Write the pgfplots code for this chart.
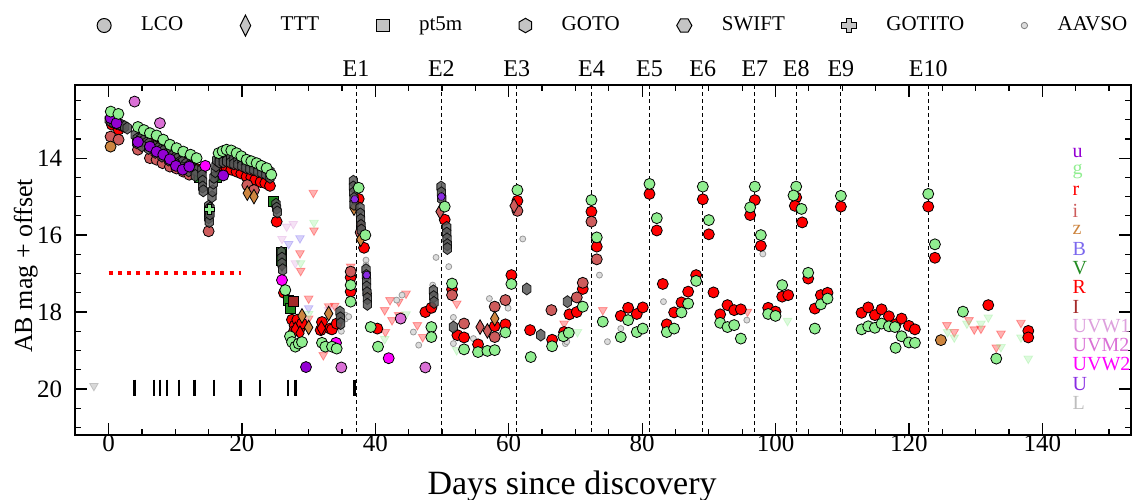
\documentclass[border=0pt]{standalone}
\usepackage{fontspec}
\setmainfont{Liberation Serif}
\usepackage{pgfplots}
\pgfplotsset{compat=1.18}

\definecolor{cu}{HTML}{9400D3}
\definecolor{cg}{HTML}{90EE90}
\definecolor{cr}{HTML}{FF0000}
\definecolor{ci}{HTML}{CD5C5C}
\definecolor{cz}{HTML}{CD853F}
\definecolor{cB}{HTML}{7B68EE}
\definecolor{cV}{HTML}{228B22}
\definecolor{cI}{HTML}{A52A2A}
\definecolor{cwa}{HTML}{DDA0DD}
\definecolor{cmb}{HTML}{DA70D6}
\definecolor{cwb}{HTML}{FF00FF}
\definecolor{cU}{HTML}{8A2BE2}
\definecolor{cL}{HTML}{BEBEBE}
\definecolor{goto}{HTML}{585858}
\definecolor{leg}{HTML}{C4C4C4}

% hexagon marks (GOTO upright, SWIFT flat) and a filled plus (GOTITO)
\pgfdeclareplotmark{hexv}{%
  \pgfpathmoveto{\pgfpointpolar{90}{\pgfplotmarksize}}%
  \pgfpathlineto{\pgfpointpolar{150}{\pgfplotmarksize}}%
  \pgfpathlineto{\pgfpointpolar{210}{\pgfplotmarksize}}%
  \pgfpathlineto{\pgfpointpolar{270}{\pgfplotmarksize}}%
  \pgfpathlineto{\pgfpointpolar{330}{\pgfplotmarksize}}%
  \pgfpathlineto{\pgfpointpolar{30}{\pgfplotmarksize}}%
  \pgfpathclose\pgfusepathqfillstroke}
\pgfdeclareplotmark{hexh}{%
  \pgfpathmoveto{\pgfpointpolar{0}{\pgfplotmarksize}}%
  \pgfpathlineto{\pgfpointpolar{60}{\pgfplotmarksize}}%
  \pgfpathlineto{\pgfpointpolar{120}{\pgfplotmarksize}}%
  \pgfpathlineto{\pgfpointpolar{180}{\pgfplotmarksize}}%
  \pgfpathlineto{\pgfpointpolar{240}{\pgfplotmarksize}}%
  \pgfpathlineto{\pgfpointpolar{300}{\pgfplotmarksize}}%
  \pgfpathclose\pgfusepathqfillstroke}
\pgfdeclareplotmark{fplus}{%
  \pgfpathmoveto{\pgfpoint{-0.35\pgfplotmarksize}{\pgfplotmarksize}}%
  \pgfpathlineto{\pgfpoint{0.35\pgfplotmarksize}{\pgfplotmarksize}}%
  \pgfpathlineto{\pgfpoint{0.35\pgfplotmarksize}{0.35\pgfplotmarksize}}%
  \pgfpathlineto{\pgfpoint{\pgfplotmarksize}{0.35\pgfplotmarksize}}%
  \pgfpathlineto{\pgfpoint{\pgfplotmarksize}{-0.35\pgfplotmarksize}}%
  \pgfpathlineto{\pgfpoint{0.35\pgfplotmarksize}{-0.35\pgfplotmarksize}}%
  \pgfpathlineto{\pgfpoint{0.35\pgfplotmarksize}{-\pgfplotmarksize}}%
  \pgfpathlineto{\pgfpoint{-0.35\pgfplotmarksize}{-\pgfplotmarksize}}%
  \pgfpathlineto{\pgfpoint{-0.35\pgfplotmarksize}{-0.35\pgfplotmarksize}}%
  \pgfpathlineto{\pgfpoint{-\pgfplotmarksize}{-0.35\pgfplotmarksize}}%
  \pgfpathlineto{\pgfpoint{-\pgfplotmarksize}{0.35\pgfplotmarksize}}%
  \pgfpathlineto{\pgfpoint{-0.35\pgfplotmarksize}{0.35\pgfplotmarksize}}%
  \pgfpathclose\pgfusepathqfillstroke}

\pgfplotsset{
  lco/.style={only marks, mark=*, mark size=2.75pt,
    mark options={draw=black, line width=0.4pt, fill=#1}},
  ttt/.style={only marks, mark=diamond*, mark size=2.8pt,
    mark options={draw=black, line width=0.4pt, fill=#1, yscale=1.3}},
  sq/.style={only marks, mark=square*, mark size=2.5pt,
    mark options={draw=black, line width=0.4pt, fill=#1}},
  ul/.style={only marks, mark=triangle*, mark size=2.5pt,
    mark options={rotate=180, draw=#1, fill=#1, fill opacity=0.3, draw opacity=0.35, line width=0.4pt}},
}

\begin{document}
\begin{tikzpicture}
\begin{axis}[
  width=527.7pt, height=175pt, scale only axis,
  xmin=-5, xmax=153.3, ymin=12.1, ymax=21.2, y dir=reverse,
  xtick={0,20,...,140}, ytick={14,16,18,20},
  minor xtick={5,10,15,25,30,35,45,50,55,65,70,75,85,90,95,105,110,115,125,130,135,145,150},
  minor ytick={12.5,13,13.5,14.5,15,15.5,16.5,17,17.5,18.5,19,19.5,20.5,21},
  tick pos=both, tick align=inside,
  major tick length=6pt, minor tick length=3pt,
  every tick/.style={black, line width=0.6pt},
  axis line style={line width=0.8pt},
  tick label style={font=\fontsize{12.5}{14}\selectfont},
  xticklabel style={yshift=3.5pt},
  yticklabel style={xshift=-3pt},
  /pgf/number format/assume math mode=true,
  clip=false,
  legend columns=7,
  legend image code/.code={\draw[#1] plot coordinates {(0pt,0pt)};},
  legend style={at={(axis description cs:0.0147,1.17)}, anchor=west, draw=none, fill=none,
    font=\fontsize{10.5}{12}\selectfont, nodes={inner sep=0pt},
    /tikz/every odd column/.append style={column sep=15pt},
    /tikz/every even column/.append style={column sep=28.5pt}},
]
\addlegendimage{only marks, mark=*, mark size=3.5pt, mark options={draw=black, fill=leg, line width=0.5pt}}
\addlegendentry{LCO}
\addlegendimage{only marks, mark=diamond*, mark size=3.5pt, mark options={draw=black, fill=leg, line width=0.5pt, yscale=1.5}}
\addlegendentry{TTT}
\addlegendimage{only marks, mark=square*, mark size=3.2pt, mark options={draw=black, fill=leg, line width=0.5pt}}
\addlegendentry{pt5m}
\addlegendimage{only marks, mark=hexv, mark size=3.6pt, mark options={draw=black, fill=leg, line width=0.5pt}}
\addlegendentry{GOTO}
\addlegendimage{only marks, mark=hexh, mark size=3.8pt, mark options={draw=black, fill=leg, line width=0.5pt}}
\addlegendentry{SWIFT}
\addlegendimage{only marks, mark=fplus, mark size=3.6pt, mark options={draw=black, fill=leg, line width=0.5pt}}
\addlegendentry{GOTITO}
\addlegendimage{only marks, mark=*, mark size=1.6pt, mark options={draw=gray, fill=leg!60, line width=0.4pt}}
\addlegendentry{AAVSO}

% event lines
\pgfplotsinvokeforeach{37.1,49.9,61.2,72.4,81.1,89.1,96.9,103.1,109.8,122.9}{
  \addplot[black, line width=0.5pt, dash pattern=on 2pt off 1.5pt] coordinates {(#1,12.1) (#1,21.2)};
}

% red dotted reference line
\addplot[cr, line width=2pt, dash pattern=on 2pt off 2.65pt] coordinates {(0,16.98) (19.8,16.98)};

% spectral epochs
\addplot[only marks, mark=|, mark size=3.95pt, mark options={line width=1.2pt, black}] coordinates {
(3.9,19.965)(6.8,19.965)(7.7,19.965)(8.8,19.965)(10.6,19.965)(12.9,19.965)
(15.8,19.965)(19.8,19.965)(22.7,19.965)(26.9,19.965)(28.0,19.965)(36.9,19.965)};

% upper limits
\addplot[ul=cr] coordinates {
(30.7,14.9)(30.8,15.88)(28.7,16.47)(28.8,16.93)(30.0,17.65)(30.0,18.17)(33.0,17.85)(33.9,17.84)
(32.2,19.12)(36.3,16.82)(42.2,17.69)(43.5,17.73)(44.6,17.52)(41.4,17.95)(42.5,18.21)(43.5,18.08)
(41.5,18.52)(46.3,18.34)(47.1,18.65)(52.2,17.78)(68.3,18.3)(74.1,17.95)(95.8,17.99)
(125.7,18.34)(126.8,18.52)(129.0,18.21)(129.8,18.45)(130.8,18.43)(133.8,18.56)(133.1,18.92)(136.8,18.28)};
\addplot[ul=cwa] coordinates {(26.7,15.78)(27.7,15.71)(26.0,16.1)(28.0,16.73)(33.0,17.95)};
\addplot[ul=cB] coordinates {(27.0,16.23)(28.7,16.08)(30.0,17.9)};
\addplot[ul=cg] coordinates {
(30.8,15.68)(28.8,16.73)(30.0,18.05)(41.4,18.7)(44.6,18.06)(52.2,18.99)(70.3,18.52)(101.8,18.23)
(125.8,18.52)(126.8,18.66)(128.7,18.3)(130.8,18.3)(131.9,18.14)(133.8,18.91)(136.8,18.66)(137.9,19.21)};
\addplot[ul=gray] coordinates {(-2.2,19.92)};

% AAVSO
\addplot[only marks, mark=*, mark size=1.5pt, mark options={draw=gray!80, fill=leg!60, line width=0.4pt}] coordinates {
(34.6,18.0)(34.7,18.1)(34.7,18.2)(34.8,18.3)(34.8,18.4)(34.9,18.5)(35.5,18.08)(35.5,18.18)(36.0,18.12)
(38.6,16.65)(38.6,16.78)(43.2,17.69)(44.0,17.56)(45.7,18.52)(46.5,18.86)(49.1,16.58)(51.0,16.82)
(51.7,18.14)(51.7,18.82)(54.7,18.69)(57.1,17.65)(59.9,17.9)(62.1,16.1)(68.5,18.82)(68.7,18.77)
(73.6,17.04)(74.8,18.77)(76.8,18.43)(83.2,17.73)(95.7,18.21)(98.1,16.49)(48.6,17.3)(48.6,17.95)};

% r band
\addplot[lco=cr] coordinates {
(0.5,13.13)(1.5,13.26)(5.0,13.55)(6.2,13.6)(7.2,13.7)(8.2,13.8)(9.2,13.92)(10.3,14.03)(11.2,14.1)
(12.2,14.18)(13.2,14.28)(16.5,14.22)(17.1,14.2)(17.7,14.26)(18.4,14.3)(19.2,14.35)(19.9,14.4)
(20.7,14.48)(21.4,14.5)(22.0,14.56)(22.8,14.62)(23.5,14.65)(24.2,14.72)(25.2,15.65)(26.3,17.5)
(27.5,18.2)(27.9,18.35)(28.3,18.2)(28.6,18.45)(27.8,18.5)(29.0,18.3)(32.0,18.26)(33.2,18.43)
(31.8,18.47)(33.5,18.45)(34.2,18.3)(36.3,17.1)(36.3,17.47)(37.5,15.06)(38.3,16.33)(40.3,18.43)
(47.5,18.0)(48.4,17.89)(50.4,15.6)(51.5,17.41)(52.3,18.6)(53.3,18.66)(55.4,18.84)(57.9,18.37)
(59.5,18.32)(60.4,17.04)(61.3,15.11)(63.2,18.47)(66.5,18.72)(68.3,18.52)(69.1,18.06)(70.2,18.0)
(71.1,17.4)(72.4,15.39)(73.2,16.3)(76.8,18.1)(77.9,17.89)(79.2,18.05)(80.1,17.88)(81.1,14.93)
(82.2,15.88)(83.1,17.27)(83.7,18.32)(84.8,18.01)(85.9,17.75)(86.9,17.47)(88.1,17.04)(89.1,15.07)
(90.0,15.98)(90.7,17.49)(91.7,18.06)(92.8,17.82)(93.8,17.95)(94.8,17.93)(96.2,15.48)(96.9,15.09)
(97.8,16.28)(98.9,17.89)(100.0,17.99)(101.0,17.6)(101.9,17.56)(103.1,15.02)(102.9,15.24)(104.0,15.67)
(104.9,17.13)(105.9,17.91)(106.8,17.56)(107.8,17.5)(109.8,15.26)(112.9,18.02)(113.9,17.88)
(114.9,18.08)(115.9,17.93)(117.0,18.11)(118.0,18.32)(118.9,18.17)(120.0,18.36)(120.9,18.45)
(122.9,15.26)(123.9,16.59)(131.9,17.82)(137.9,18.49)(137.9,18.66)};

% i band
\addplot[lco=ci] coordinates {
(0.3,13.44)(1.5,13.52)(4.4,13.78)(6.2,14.0)(7.2,14.04)(8.1,14.13)(9.2,14.22)(10.2,14.27)(11.2,14.35)
(12.1,14.43)(15.0,15.9)(20.8,14.7)(21.8,14.83)(36.3,16.95)(37.8,15.93)(51.5,17.56)(53.3,18.3)
(57.9,17.86)(57.9,18.65)(59.5,17.69)(61.3,15.37)(66.4,17.95)(70.2,17.62)(71.1,17.24)(72.4,15.65)(73.2,16.63)};

% z band
\addplot[lco=cz] coordinates {(0.3,13.70)(124.8,18.73)};
\addplot[ttt=cz] coordinates {
(20.8,14.91)(21.8,15.0)(26.9,17.7)(29.0,18.1)(30.0,18.4)(33.0,18.04)(36.8,15.3)(37.8,16.11)(38.8,17.52)(57.9,18.17)};
\addplot[ttt=cr] coordinates {(26.0,16.52)(26.0,16.75)(28.0,18.45)(28.7,18.55)(31.9,18.42)(37.8,15.71)};
\addplot[ttt=ci] coordinates {(49.7,15.39)(60.8,15.24)(55.7,18.39)(56.8,18.49)};

% V, B, I squares
\addplot[sq=cV] coordinates {(13.6,14.5)(16.2,14.5)(24.7,15.13)(25.9,16.45)(25.9,16.65)(27.0,17.7)(27.2,17.9)};
\addplot[sq=cB] coordinates {(5.0,13.3)};
\addplot[sq=cI] coordinates {(27.7,17.73)};

% GOTO L
\addplot[only marks, mark=hexv, mark size=2.4pt, mark options={draw=black, fill=goto, line width=0.4pt, yscale=1.25, opacity=0.85}] coordinates {
(0.1,13.0)(0.4,13.05)(0.8,13.08)(1.2,13.1)(1.6,13.12)(2.0,13.15)(2.4,13.18)(2.8,13.22)
(4.0,13.4)(4.3,13.5)(4.8,13.5)(5.2,13.55)(5.7,13.6)(6.1,13.62)(6.5,13.7)(6.9,13.7)(7.4,13.75)
(7.8,13.8)(8.2,13.82)(8.6,13.9)(9.0,13.9)(9.5,13.95)(9.9,14.0)(10.3,14.02)(10.7,14.1)(11.1,14.1)
(11.6,14.15)(12.0,14.2)(12.4,14.22)(12.8,14.3)(13.2,14.32)
(4.2,13.6)(5.0,13.68)(6.0,13.75)(7.0,13.85)(8.0,13.95)(9.0,14.05)(10.0,14.15)(11.0,14.25)(12.0,14.33)(13.0,14.45)
(14.0,14.3)(14.0,14.45)(14.1,14.6)(14.1,14.75)(14.2,14.85)
(15.0,15.25)(15.0,15.35)(15.0,15.45)(15.0,15.55)(15.1,15.65)(15.2,15.3)(15.2,15.45)
(15.5,15.0)(15.6,14.85)(15.7,14.65)(15.8,14.5)(16.0,14.35)(16.1,14.2)(16.2,14.05)
(16.6,13.95)(16.6,14.1)(17.2,13.95)(17.2,14.1)(17.7,13.92)(17.7,14.08)(18.3,13.95)(18.3,14.12)
(18.8,14.0)(18.8,14.15)(19.4,14.0)(19.4,14.17)(20.0,14.05)(20.0,14.2)(20.6,14.08)(20.6,14.25)
(21.2,14.1)(21.2,14.28)(21.8,14.15)(21.8,14.3)(22.4,14.18)(22.4,14.35)(23.0,14.22)(23.0,14.38)
(23.6,14.28)(23.6,14.42)(24.2,14.35)(24.2,14.5)
(25.1,15.2)(25.2,15.3)(25.3,15.4)(25.9,16.45)(26.0,16.6)(26.0,16.75)(26.1,16.9)
(34.7,18.0)(34.75,18.15)(34.8,18.3)
(36.7,14.6)(36.7,14.75)(36.75,14.9)(36.8,15.05)(36.8,15.2)
(37.7,15.3)(37.75,15.45)(37.8,15.6)(37.85,15.75)(37.9,15.87)
(38.6,16.9)(38.65,17.05)(38.7,17.2)(38.7,17.35)(38.75,17.5)(38.8,17.65)(38.8,17.8)
(48.7,17.45)(48.75,17.6)(48.8,17.75)
(49.85,14.75)(49.9,14.9)(49.95,15.05)
(50.7,15.8)(50.7,15.95)(50.75,16.1)(50.8,16.25)(50.8,16.35)
(51.7,18.39)(62.7,17.4)(64.8,18.6)(68.8,17.73)};

% u / U band
\addplot[lco=cu] coordinates {
(0.3,12.96)(1.2,13.09)(4.4,13.58)(6.2,13.70)(7.2,13.83)(8.2,13.91)(9.2,14.03)(10.1,14.2)(11.1,14.3)
(12.1,14.22)(17.2,14.45)(29.6,19.43)};
\addplot[only marks, mark=hexh, mark size=2pt, mark options={draw=black, fill=cU, line width=0.3pt}] coordinates {
(36.9,15.07)(38.7,17.04)(49.9,15.0)};

% UV
\addplot[lco=cwb] coordinates {(14.5,14.2)(26.0,17.17)(34.1,18.8)(42.0,19.2)};
\addplot[lco=cmb] coordinates {(3.9,12.53)(7.7,13.09)(34.9,19.44)(47.5,19.44)(43.8,18.17)};

% g band
\addplot[lco=cg] coordinates {
(0.33,12.79)(1.47,12.85)(4.4,13.19)(5.3,13.27)(6.2,13.35)(7.2,13.41)(8.2,13.52)(9.2,13.65)(10.2,13.74)
(11.2,13.83)(12.3,13.91)(13.2,14.0)(16.5,13.87)(17.1,13.82)(17.7,13.78)(18.4,13.8)(19.2,13.87)
(19.9,13.95)(20.7,14.04)(21.4,14.08)(22.2,14.13)(22.9,14.2)(23.7,14.26)(24.4,14.43)(26.5,17.43)
(27.2,18.63)(27.5,18.78)(28.0,18.9)(28.5,18.82)(29.0,18.78)(32.0,18.8)(32.5,18.9)(33.5,18.9)(34.2,18.95)
(36.3,17.3)(36.3,17.73)(37.5,14.77)(38.5,16.0)(39.3,18.39)(40.4,18.9)(48.4,18.39)(48.4,18.65)
(50.4,15.26)(51.5,17.26)(53.3,18.97)(55.4,19.04)(56.8,19.01)(57.9,18.99)(59.5,18.53)(60.4,17.27)
(61.3,14.83)(63.3,19.17)(66.5,18.89)(68.2,18.63)(69.0,18.54)(71.1,17.86)(72.4,15.09)(73.2,16.06)
(74.1,18.25)(76.8,18.65)(77.9,18.21)(79.2,18.52)(80.1,18.43)(81.1,14.67)(82.2,15.56)(83.7,18.52)
(84.8,18.43)(85.9,18.01)(86.9,17.78)(88.1,17.19)(89.1,14.74)(90.0,15.61)(91.7,18.28)(92.8,18.39)
(93.8,18.34)(94.8,18.69)(96.2,15.28)(96.9,14.74)(97.8,16.0)(98.9,18.05)(100.0,18.1)(101.0,17.3)
(103.1,14.74)(102.7,14.97)(103.9,15.32)(104.9,16.98)(105.9,18.43)(106.8,17.8)(107.8,17.65)
(109.8,14.98)(112.9,18.45)(113.9,18.37)(114.9,18.41)(115.9,18.3)(117.0,18.37)(117.9,18.39)
(118.0,18.93)(118.9,18.63)(120.0,18.79)(120.9,18.8)(122.9,14.93)(123.9,16.24)(128.1,17.99)(133.1,19.21)};
\addplot[only marks, mark=fplus, mark size=2.6pt, mark options={draw=black, fill=cg, line width=0.3pt}] coordinates {(15.1,15.33)};

% event labels
\node[anchor=base, yshift=4.2pt, font=\fontsize{12}{14}\selectfont] at (axis cs:37.1,12.1) {E1};
\node[anchor=base, yshift=4.2pt, font=\fontsize{12}{14}\selectfont] at (axis cs:49.9,12.1) {E2};
\node[anchor=base, yshift=4.2pt, font=\fontsize{12}{14}\selectfont] at (axis cs:61.2,12.1) {E3};
\node[anchor=base, yshift=4.2pt, font=\fontsize{12}{14}\selectfont] at (axis cs:72.4,12.1) {E4};
\node[anchor=base, yshift=4.2pt, font=\fontsize{12}{14}\selectfont] at (axis cs:81.1,12.1) {E5};
\node[anchor=base, yshift=4.2pt, font=\fontsize{12}{14}\selectfont] at (axis cs:89.1,12.1) {E6};
\node[anchor=base, yshift=4.2pt, font=\fontsize{12}{14}\selectfont] at (axis cs:96.9,12.1) {E7};
\node[anchor=base, yshift=4.2pt, font=\fontsize{12}{14}\selectfont] at (axis cs:103.1,12.1) {E8};
\node[anchor=base, yshift=4.2pt, font=\fontsize{12}{14}\selectfont] at (axis cs:109.8,12.1) {E9};
\node[anchor=base, yshift=4.2pt, font=\fontsize{12}{14}\selectfont] at (axis cs:122.9,12.1) {E10};

% band names
\node[anchor=west, inner sep=0pt, text=cu, font=\fontsize{10}{12}\selectfont] at (axis cs:144.5,13.86) {u};
\node[anchor=west, inner sep=0pt, text=cg, font=\fontsize{10}{12}\selectfont] at (axis cs:144.5,14.36) {g};
\node[anchor=west, inner sep=0pt, text=cr, font=\fontsize{10}{12}\selectfont] at (axis cs:144.5,14.86) {r};
\node[anchor=west, inner sep=0pt, text=ci, font=\fontsize{10}{12}\selectfont] at (axis cs:144.5,15.36) {i};
\node[anchor=west, inner sep=0pt, text=cz, font=\fontsize{10}{12}\selectfont] at (axis cs:144.5,15.86) {z};
\node[anchor=west, inner sep=0pt, text=cB, font=\fontsize{10}{12}\selectfont] at (axis cs:144.5,16.36) {B};
\node[anchor=west, inner sep=0pt, text=cV, font=\fontsize{10}{12}\selectfont] at (axis cs:144.5,16.86) {V};
\node[anchor=west, inner sep=0pt, text=cr, font=\fontsize{10}{12}\selectfont] at (axis cs:144.5,17.36) {R};
\node[anchor=west, inner sep=0pt, text=cI, font=\fontsize{10}{12}\selectfont] at (axis cs:144.5,17.86) {I};
\node[anchor=west, inner sep=0pt, text=cwa, font=\fontsize{10}{12}\selectfont] at (axis cs:144.5,18.36) {UVW1};
\node[anchor=west, inner sep=0pt, text=cmb, font=\fontsize{10}{12}\selectfont] at (axis cs:144.5,18.86) {UVM2};
\node[anchor=west, inner sep=0pt, text=cwb, font=\fontsize{10}{12}\selectfont] at (axis cs:144.5,19.36) {UVW2};
\node[anchor=west, inner sep=0pt, text=cU, font=\fontsize{10}{12}\selectfont] at (axis cs:144.5,19.86) {U};
\node[anchor=west, inner sep=0pt, text=cL, font=\fontsize{10}{12}\selectfont] at (axis cs:144.5,20.36) {L};

% axis labels
\node[anchor=base, font=\fontsize{17}{20}\selectfont] at ([yshift=-29.5pt]axis cs:69.5,21.2) {Days since discovery};
\node[anchor=base, rotate=90, font=\fontsize{13}{15}\selectfont] at ([xshift=-21.5pt]axis cs:-5,16.8) {AB mag + offset};

\coordinate (SWc) at (axis cs:-5,21.2);
\coordinate (NEc) at (axis cs:153.3,12.1);
\end{axis}
\pgfresetboundingbox
\path[use as bounding box] ([xshift=-37.6pt,yshift=-32pt]SWc) rectangle ([xshift=3pt,yshift=42.5pt]NEc);
\end{tikzpicture}
\end{document}
